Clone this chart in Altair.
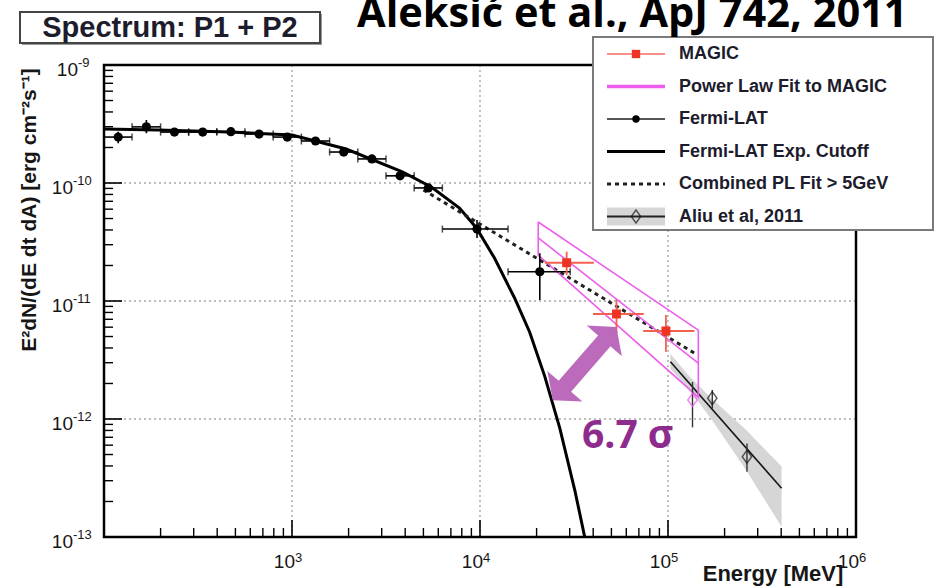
import altair as alt
import pandas as pd

# ---------------- data (energy in MeV, E^2 dN/dE in erg cm^-2 s^-1) ----------------
# Fermi-LAT spectral points
fermi_energy = [119, 168, 237, 335, 473, 668, 944, 1334, 1884, 2661, 3758, 5309, 9640, 20800]
fermi_energy_low = [100, 141, 200, 282, 398, 562, 794, 1122, 1585, 2239, 3162, 4467, 6310, 14100]
fermi_energy_high = [141, 200, 282, 398, 562, 794, 1122, 1585, 2239, 3162, 4467, 6310, 14100, 30200]
fermi_flux = [2.45e-10, 2.99e-10, 2.70e-10, 2.70e-10, 2.72e-10, 2.60e-10, 2.45e-10,
              2.27e-10, 1.83e-10, 1.60e-10, 1.15e-10, 9.08e-11, 4.07e-11, 1.77e-11]
fermi_flux_low = [2.17e-10, 2.64e-10, 2.61e-10, 2.61e-10, 2.63e-10, 2.51e-10, 2.36e-10,
                  2.18e-10, 1.75e-10, 1.52e-10, 1.08e-10, 8.4e-11, 3.42e-11, 1.02e-11]
fermi_flux_high = [2.72e-10, 3.42e-10, 2.80e-10, 2.80e-10, 2.82e-10, 2.70e-10, 2.55e-10,
                   2.37e-10, 1.92e-10, 1.69e-10, 1.23e-10, 9.8e-11, 4.85e-11, 2.54e-11]

# Fermi-LAT exponential cutoff fit
cutoff_energy = [100, 195, 461, 1000, 1941, 3862, 5508, 7781, 9575, 11940, 15270,
                 18360, 22080, 26550, 31920, 36060]
cutoff_flux = [2.87e-10, 2.81e-10, 2.71e-10, 2.55e-10, 1.94e-10, 1.24e-10, 9.25e-11,
               6.14e-11, 4.16e-11, 2.31e-11, 1.06e-11, 5.46e-12, 2.31e-12, 8.4e-13,
               2.50e-13, 1.0e-13]

# Combined power-law fit above 5 GeV
combined_energy = [5000, 138000]
combined_flux = [8.73e-11, 3.62e-12]

# MAGIC points
magic_energy = [28900, 53200, 97500]
magic_energy_low = [22100, 39900, 73800]
magic_energy_high = [40300, 74300, 138000]
magic_flux = [2.11e-11, 7.76e-12, 5.57e-12]
magic_flux_low = [1.66e-11, 5.32e-12, 3.72e-12]
magic_flux_high = [2.62e-11, 1.03e-11, 7.6e-12]

# Power-law fit to MAGIC with its error contour
pl_energy = [20400, 145000]
pl_flux = [3.42e-11, 2.98e-12]
pl_flux_upper = [4.67e-11, 5.67e-12]
pl_flux_lower = [2.45e-11, 1.53e-12]

# Aliu et al. 2011 (VERITAS)
aliu_energy = [135000, 172000, 263000]
aliu_flux = [1.45e-12, 1.50e-12, 4.79e-13]
aliu_flux_low = [8.5e-13, 1.23e-12, 3.57e-13]
aliu_flux_high = [2.06e-12, 1.76e-12, 6.2e-13]
aliu_fit_energy = [103000, 402000]
aliu_fit_flux = [3.06e-12, 2.59e-13]
aliu_band_energy = [103000, 130000, 170000, 260000, 402000]
aliu_band_low = [2.65e-12, 1.75e-12, 1.0e-12, 3.7e-13, 1.22e-13]
aliu_band_high = [3.55e-12, 2.3e-12, 1.5e-12, 8.1e-13, 3.95e-13]

# axis decorations
x_decades = [1e3, 1e4, 1e5, 1e6]
x_decade_exponents = ["3", "4", "5", "6"]
y_decades = [1e-9, 1e-10, 1e-11, 1e-12, 1e-13]
y_decade_exponents = ["-9", "-10", "-11", "-12", "-13"]
x_grid = [1e3, 1e4, 1e5]
y_grid = [1e-10, 1e-11, 1e-12]

legend_labels = ["MAGIC", "Power Law Fit to MAGIC", "Fermi-LAT", "Fermi-LAT Exp. Cutoff",
                 "Combined PL Fit > 5GeV", "Aliu et al, 2011"]

# ---------------- layout ----------------
W, H = 752, 472
FONT = "Liberation Sans"
INK = "#161616"
RED = "#ee3322"
PINK = "#ee5eee"
GREY_LINE = "#a8a8a8"

xs = alt.Scale(type="log", domain=[100, 1e6])
ys = alt.Scale(type="log", domain=[1e-13, 1e-9])


def ex(f):
    return alt.X(f"{f}:Q", scale=xs, axis=None)


def ey(f):
    return alt.Y(f"{f}:Q", scale=ys, axis=None)


one = pd.DataFrame({"k": [0]})

fermi = pd.DataFrame({"E": fermi_energy, "Elo": fermi_energy_low, "Ehi": fermi_energy_high,
                      "F": fermi_flux, "Flo": fermi_flux_low, "Fhi": fermi_flux_high})
cutoff = pd.DataFrame({"E": cutoff_energy, "F": cutoff_flux})
combined = pd.DataFrame({"E": combined_energy, "F": combined_flux})
magic = pd.DataFrame({"E": magic_energy, "Elo": magic_energy_low, "Ehi": magic_energy_high,
                      "F": magic_flux, "Flo": magic_flux_low, "Fhi": magic_flux_high})
pl_center = pd.DataFrame({"E": pl_energy, "F": pl_flux})
# closed contour: upper edge left->right, right edge, lower edge right->left, left edge
pl_contour = pd.DataFrame({
    "E": [pl_energy[0], pl_energy[1], pl_energy[1], pl_energy[0], pl_energy[0]],
    "F": [pl_flux_upper[0], pl_flux_upper[1], pl_flux_lower[1], pl_flux_lower[0], pl_flux_upper[0]],
    "order": list(range(5)),
})
aliu = pd.DataFrame({"E": aliu_energy, "F": aliu_flux, "Flo": aliu_flux_low, "Fhi": aliu_flux_high})
aliu_fit = pd.DataFrame({"E": aliu_fit_energy, "F": aliu_fit_flux})
aliu_band = pd.DataFrame({"E": aliu_band_energy, "lo": aliu_band_low, "hi": aliu_band_high})

x_minor = pd.DataFrame({"E": [k * 10.0 ** d for d in range(2, 6) for k in range(2, 10)]})
y_minor = pd.DataFrame({"F": [k * 10.0 ** d for d in range(-13, -9) for k in range(2, 10)]})
x_major = pd.DataFrame({"E": x_grid})
y_major = pd.DataFrame({"F": y_grid})
x_labels = pd.DataFrame({"E": x_decades, "exp": x_decade_exponents})
y_labels = pd.DataFrame({"F": y_decades, "exp": y_decade_exponents})

layers = []

# grid
layers.append(alt.Chart(x_major).mark_rule(color=GREY_LINE, strokeWidth=1.4, strokeDash=[2, 3]).encode(
    x=ex("E"), y=alt.value(0), y2=alt.value(H)))
layers.append(alt.Chart(y_major).mark_rule(color=GREY_LINE, strokeWidth=1.4, strokeDash=[2, 3]).encode(
    y=ey("F"), x=alt.value(0), x2=alt.value(W)))

# Aliu et al. band and fit
layers.append(alt.Chart(aliu_band).mark_area(color="#d6d6d6", clip=True).encode(
    x=ex("E"), y=ey("lo"), y2=alt.Y2("hi")))
layers.append(alt.Chart(aliu_fit).mark_line(color=INK, strokeWidth=1.6, clip=True).encode(
    x=ex("E"), y=ey("F")))

# Fermi cutoff curve and combined power law
layers.append(alt.Chart(cutoff).mark_line(color="black", strokeWidth=3, clip=True).encode(
    x=ex("E"), y=ey("F")))
layers.append(alt.Chart(combined).mark_line(color="#222222", strokeWidth=3, strokeDash=[4, 4], clip=True).encode(
    x=ex("E"), y=ey("F")))

# MAGIC power-law fit contour
layers.append(alt.Chart(pl_contour).mark_line(color=PINK, strokeWidth=1.6, clip=True).encode(
    x=ex("E"), y=ey("F"), order="order:Q"))
layers.append(alt.Chart(pl_center).mark_line(color=PINK, strokeWidth=1.6, clip=True).encode(
    x=ex("E"), y=ey("F")))

# Fermi points
layers.append(alt.Chart(fermi).mark_rule(color="black", strokeWidth=1.6).encode(
    x=ex("Elo"), x2=alt.X2("Ehi"), y=ey("F")))
layers.append(alt.Chart(fermi).mark_rule(color="black", strokeWidth=1.6).encode(
    x=ex("E"), y=ey("Flo"), y2=alt.Y2("Fhi")))
for end in ["Elo", "Ehi"]:
    layers.append(alt.Chart(fermi).mark_tick(color="black", orient="vertical", size=7, thickness=1.5).encode(
        x=ex(end), y=ey("F")))
layers.append(alt.Chart(fermi).mark_point(shape="circle", filled=True, color="black", size=85, opacity=1).encode(
    x=ex("E"), y=ey("F")))

# MAGIC points
layers.append(alt.Chart(magic).mark_rule(color="#f2604e", strokeWidth=1.8).encode(
    x=ex("Elo"), x2=alt.X2("Ehi"), y=ey("F")))
layers.append(alt.Chart(magic).mark_rule(color="#f2604e", strokeWidth=1.8).encode(
    x=ex("E"), y=ey("Flo"), y2=alt.Y2("Fhi")))
layers.append(alt.Chart(magic).mark_point(shape="square", filled=True, color=RED, size=80, opacity=1).encode(
    x=ex("E"), y=ey("F")))

# Aliu et al. points
DIAMOND = "M 0 -1 L 0.72 0 L 0 1 L -0.72 0 Z"
layers.append(alt.Chart(aliu).mark_rule(color="#333333", strokeWidth=1.4).encode(
    x=ex("E"), y=ey("Flo"), y2=alt.Y2("Fhi")))
layers.append(alt.Chart(aliu.iloc[[0]]).mark_point(shape=DIAMOND, filled=False, color=PINK, size=170,
                                                    strokeWidth=1.6).encode(x=ex("E"), y=ey("F")))
layers.append(alt.Chart(aliu.iloc[1:]).mark_point(shape=DIAMOND, filled=False, color=INK, size=170,
                                                   strokeWidth=1.4).encode(x=ex("E"), y=ey("F")))

# ticks (inside the frame)
layers.append(alt.Chart(x_minor).mark_rule(color="black", strokeWidth=1.4).encode(
    x=ex("E"), y=alt.value(H), y2=alt.value(H - 9)))
layers.append(alt.Chart(x_major).mark_rule(color="black", strokeWidth=1.6).encode(
    x=ex("E"), y=alt.value(H), y2=alt.value(H - 17)))
layers.append(alt.Chart(y_minor).mark_rule(color="black", strokeWidth=1.4).encode(
    y=ey("F"), x=alt.value(0), x2=alt.value(9)))
layers.append(alt.Chart(y_major).mark_rule(color="black", strokeWidth=1.6).encode(
    y=ey("F"), x=alt.value(0), x2=alt.value(18)))

# frame
layers.append(alt.Chart(one).mark_rect(fillOpacity=0, stroke="black", strokeWidth=2.5).encode(
    x=alt.value(0), x2=alt.value(W), y=alt.value(0), y2=alt.value(H)))

# tick labels: "10" with raised exponent
layers.append(alt.Chart(x_labels).mark_text(text="10", font=FONT, fontSize=19, color=INK, align="right",
                                            baseline="alphabetic", dx=3).encode(
    x=ex("E"), y=alt.value(H + 31)))
layers.append(alt.Chart(x_labels).mark_text(font=FONT, fontSize=13, color=INK, align="left",
                                            baseline="alphabetic", dx=3).encode(
    x=ex("E"), y=alt.value(H + 25), text="exp:N"))
for rows, edge in [(y_labels.iloc[[0]], -26), (y_labels.iloc[1:], -31)]:
    layers.append(alt.Chart(rows).mark_text(text="10", font=FONT, fontSize=19, color=INK, align="right",
                                            baseline="alphabetic", dy=11).encode(
        y=ey("F"), x=alt.value(edge)))
    layers.append(alt.Chart(rows).mark_text(font=FONT, fontSize=13, color=INK, align="left",
                                            baseline="alphabetic", dy=2).encode(
        y=ey("F"), x=alt.value(edge), text="exp:N"))

# axis titles
layers.append(alt.Chart(one).mark_text(text="Energy [MeV]", font=FONT, fontSize=22, fontWeight="bold",
                                       color=INK, align="center", baseline="alphabetic").encode(
    x=alt.value(669), y=alt.value(H + 44)))
layers.append(alt.Chart(one).mark_text(text="E\u00b2dN/(dE dt dA) [erg cm\u207b\u00b2s\u207b\u00b9]", font=FONT,
                                       fontSize=21, fontWeight="bold", color=INK, angle=270,
                                       align="center", baseline="middle").encode(
    x=alt.value(-74), y=alt.value(145)))

# significance arrow and label
ARROW = ("M -1 0 L -0.62 -0.48 L -0.62 -0.17 L 0.62 -0.17 L 0.62 -0.48 L 1 0 "
         "L 0.62 0.48 L 0.62 0.17 L -0.62 0.17 L -0.62 0.48 Z")
arrow_at = pd.DataFrame({"E": [36000], "F": [2.95e-12]})
layers.append(alt.Chart(arrow_at).mark_point(shape=ARROW, filled=True, color="#b862b8", opacity=0.95,
                                             size=9400, angle=311).encode(x=ex("E"), y=ey("F")))
layers.append(alt.Chart(one).mark_text(text="6.7 \u03c3", font="Open Sans", fontSize=39, fontWeight="bold",
                                       color="#8e2c8e", align="left", baseline="alphabetic").encode(
    x=alt.value(478), y=alt.value(383)))

# legend
LX0, LX1, LXC, LTX = 503, 561, 532, 575
layers.append(alt.Chart(one).mark_rect(fill="white", stroke="#7a7a7a", strokeWidth=2).encode(
    x=alt.value(489), x2=alt.value(829), y=alt.value(-28), y2=alt.value(165)))
row_y = [-11 + 32.5 * i for i in range(len(legend_labels))]


def hline(y, **kw):
    return alt.Chart(one).mark_rule(**kw).encode(x=alt.value(LX0), x2=alt.value(LX1), y=alt.value(y))


def dot(y, **kw):
    return alt.Chart(one).mark_point(**kw).encode(x=alt.value(LXC), y=alt.value(y))


layers.append(hline(row_y[0], color="#f4928a", strokeWidth=2))
layers.append(dot(row_y[0], shape="square", filled=True, color=RED, size=70, opacity=1))
layers.append(hline(row_y[1], color=PINK, strokeWidth=3.5))
layers.append(hline(row_y[2], color="#555555", strokeWidth=2))
layers.append(dot(row_y[2], shape="circle", filled=True, color="black", size=55, opacity=1))
layers.append(hline(row_y[3], color="black", strokeWidth=3))
layers.append(hline(row_y[4], color="#222222", strokeWidth=3, strokeDash=[4, 4]))
layers.append(alt.Chart(one).mark_rect(color="#d6d6d6").encode(
    x=alt.value(LX0), x2=alt.value(LX1), y=alt.value(row_y[5] - 9), y2=alt.value(row_y[5] + 9)))
layers.append(hline(row_y[5], color="#222222", strokeWidth=2))
layers.append(dot(row_y[5], shape=DIAMOND, filled=False, color=INK, size=170, strokeWidth=1.4))
for y, label in zip(row_y, legend_labels):
    layers.append(alt.Chart(one).mark_text(text=label, font=FONT, fontSize=18, fontWeight="bold",
                                           color="#1c1c2c", align="left", baseline="middle").encode(
        x=alt.value(LTX), y=alt.value(y)))

# panel tag and reference line at the top
layers.append(alt.Chart(one).mark_rect(fill="#9a9a9a").encode(
    x=alt.value(-82), x2=alt.value(218), y=alt.value(-51), y2=alt.value(-20)))
layers.append(alt.Chart(one).mark_rect(fill="white", stroke="#444444", strokeWidth=2).encode(
    x=alt.value(-84), x2=alt.value(216), y=alt.value(-53), y2=alt.value(-22)))
layers.append(alt.Chart(one).mark_text(text="Spectrum: P1 + P2", font=FONT, fontSize=29, fontWeight="bold",
                                       color="#1c1c2c", align="center", baseline="alphabetic").encode(
    x=alt.value(66), y=alt.value(-28)))
layers.append(alt.Chart(one).mark_text(text="Aleksi\u0107 et al., ApJ 742, 2011", font="Open Sans",
                                       fontSize=41.5, fontWeight="bold", color="black", align="left",
                                       baseline="alphabetic").encode(
    x=alt.value(253), y=alt.value(-38)))

chart = alt.layer(*layers).properties(
    width=W, height=H,
    padding={"left": 104, "top": 65, "right": 937 - 104 - W, "bottom": 586 - 65 - H},
    autosize=alt.AutoSizeParams(type="none"),
    background="white",
).configure_view(strokeWidth=0)

chart.save("out.html", embed_options={"renderer": "svg", "actions": False})
